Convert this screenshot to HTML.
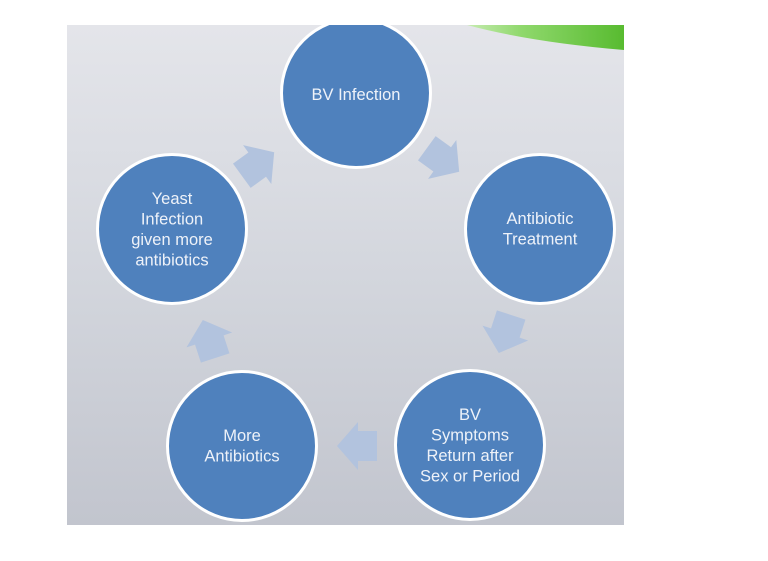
<!DOCTYPE html>
<html>
<head>
<meta charset="utf-8">
<style>
  html, body { margin:0; padding:0; background:#ffffff; }
  body { width:768px; height:561px; overflow:hidden; }
  svg { display:block; }
  text { font-family:"Liberation Sans", "DejaVu Sans", sans-serif; font-size:16.5px; fill:#eef2f9; text-anchor:middle; }
</style>
</head>
<body>
<svg width="768" height="561" viewBox="0 0 768 561" xmlns="http://www.w3.org/2000/svg">
  <defs>
    <linearGradient id="bg" x1="0" y1="0" x2="0" y2="1">
      <stop offset="0" stop-color="#e4e5ea"/>
      <stop offset="0.5" stop-color="#d3d6dd"/>
      <stop offset="1" stop-color="#c2c5ce"/>
    </linearGradient>
    <linearGradient id="gr" x1="0" y1="0" x2="1" y2="0">
      <stop offset="0" stop-color="#c6ebb0"/>
      <stop offset="0.35" stop-color="#8fd86c"/>
      <stop offset="1" stop-color="#58bb30"/>
    </linearGradient>
    <clipPath id="panel">
      <rect x="67" y="25" width="557" height="500"/>
    </clipPath>
    <path id="arr" d="M-20,-15 L-1,-15 L-1,-24 L20,0 L-1,24 L-1,15 L-20,15 Z"/>
  </defs>

  <rect x="67" y="25" width="557" height="500" fill="url(#bg)"/>

  <g clip-path="url(#panel)">
    <path d="M467,25 Q530,42 624,50 L624,25 Z" fill="url(#gr)"/>

    <!-- arrows -->
    <g fill="#b2c3de">
      <use href="#arr" transform="translate(258,164) rotate(-36)"/>
      <use href="#arr" transform="translate(443,160) rotate(36)"/>
      <use href="#arr" transform="translate(505,334) rotate(108)"/>
      <use href="#arr" transform="translate(357,446) rotate(180)"/>
      <use href="#arr" transform="translate(209,339) rotate(252)"/>
    </g>

    <!-- circles -->
    <g fill="#4f81bd" stroke="#ffffff" stroke-width="3">
      <circle cx="356" cy="93" r="74.5"/>
      <circle cx="540" cy="229" r="74.5"/>
      <circle cx="470" cy="445" r="74.5"/>
      <circle cx="242" cy="446" r="74.5"/>
      <circle cx="172" cy="229" r="74.5"/>
    </g>
  </g>

  <!-- labels -->
  <text x="356" y="100">BV Infection</text>

  <text x="540" y="224">Antibiotic</text>
  <text x="540" y="244.5">Treatment</text>

  <text x="470" y="420">BV</text>
  <text x="470" y="440.5">Symptoms</text>
  <text x="470" y="461">Return after</text>
  <text x="470" y="481.5">Sex or Period</text>

  <text x="242" y="441">More</text>
  <text x="242" y="461.5">Antibiotics</text>

  <text x="172" y="204">Yeast</text>
  <text x="172" y="224.5">Infection</text>
  <text x="172" y="245">given more</text>
  <text x="172" y="265.5">antibiotics</text>
</svg>
</body>
</html>
